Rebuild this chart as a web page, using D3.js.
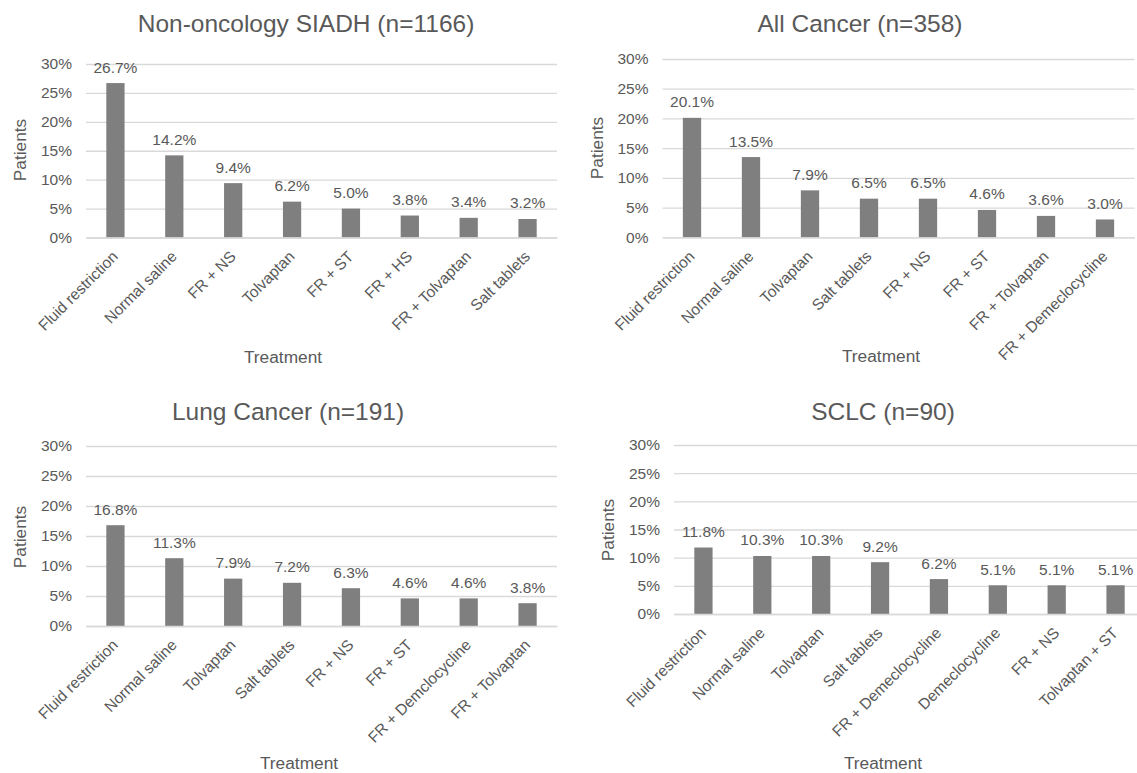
<!DOCTYPE html>
<html>
<head>
<meta charset="utf-8">
<script src="https://cdn.jsdelivr.net/npm/d3@7"></script>
<style>
  body { margin: 0; background: #fff; }
  svg { display: block; font-family: "Liberation Sans", Arial, sans-serif; }
</style>
</head>
<body>
<div id="chart-container"></div>
<script>
// values (percent of patients)
var yTicks = [0, 5, 10, 15, 20, 25, 30];

var nonOncTitle = "Non-oncology SIADH (n=1166)";
var nonOncCats = ["Fluid restriction", "Normal saline", "FR + NS", "Tolvaptan", "FR + ST", "FR + HS", "FR + Tolvaptan", "Salt tablets"];
var nonOncVals = [26.7, 14.2, 9.4, 6.2, 5.0, 3.8, 3.4, 3.2];

var allCancerTitle = "All Cancer (n=358)";
var allCancerCats = ["Fluid restriction", "Normal saline", "Tolvaptan", "Salt tablets", "FR + NS", "FR + ST", "FR + Tolvaptan", "FR + Demeclocycline"];
var allCancerVals = [20.1, 13.5, 7.9, 6.5, 6.5, 4.6, 3.6, 3.0];

var lungTitle = "Lung Cancer (n=191)";
var lungCats = ["Fluid restriction", "Normal saline", "Tolvaptan", "Salt tablets", "FR + NS", "FR + ST", "FR + Demclocycline", "FR + Tolvaptan"];
var lungVals = [16.8, 11.3, 7.9, 7.2, 6.3, 4.6, 4.6, 3.8];

var sclcTitle = "SCLC (n=90)";
var sclcCats = ["Fluid restriction", "Normal saline", "Tolvaptan", "Salt tablets", "FR + Demeclocycline", "Demeclocycline", "FR + NS", "Tolvaptan + ST"];
var sclcVals = [11.8, 10.3, 10.3, 9.2, 6.2, 5.1, 5.1, 5.1];

var textColor = "#595959";
var barColor = "#7f7f7f";
var gridColor = "#d9d9d9";

var svg = d3.select("#chart-container")
  .append("svg")
  .attr("width", 1137)
  .attr("height", 773);

function drawPanel(title, cats, vals, box) {
  var data = cats.map(function (c, i) { return {cat: c, val: vals[i]}; });

  var x = d3.scaleBand()
    .domain(cats)
    .range([box.left, box.right])
    .paddingInner(0.69)
    .paddingOuter(0.345);

  var y = d3.scaleLinear()
    .domain([0, 30])
    .range([box.bottom, box.top]);

  var g = svg.append("g");

  //gridlines + y tick labels
  var yAxis = d3.axisLeft(y)
    .tickValues(yTicks)
    .tickSize(-(box.right - box.left))
    .tickPadding(14)
    .tickFormat(function (d) { return d + "%"; });

  var ya = g.append("g")
    .attr("transform", "translate(" + box.left + ",0)")
    .call(yAxis);
  ya.select(".domain").remove();
  ya.selectAll("line").attr("stroke", gridColor).attr("stroke-width", 1.3);
  ya.selectAll("text")
    .attr("fill", textColor)
    .style("font-size", "15.5px")
    .style("font-family", "'Liberation Sans', Arial, sans-serif");

  //bars
  g.selectAll("rect.bar")
    .data(data)
    .enter().append("rect")
    .attr("class", "bar")
    .attr("x", function (d) { return x(d.cat); })
    .attr("width", x.bandwidth())
    .attr("y", function (d) { return y(d.val); })
    .attr("height", function (d) { return y(0) - y(d.val); })
    .attr("fill", barColor);

  //value labels
  g.selectAll("text.val")
    .data(data)
    .enter().append("text")
    .attr("class", "val")
    .attr("x", function (d) { return x(d.cat) + x.bandwidth() / 2; })
    .attr("y", function (d) { return y(d.val) - 10.5; })
    .attr("text-anchor", "middle")
    .attr("fill", textColor)
    .style("font-size", "15.5px")
    .text(function (d) { return d.val.toFixed(1) + "%"; });

  //x axis with rotated category labels
  var xAxis = d3.axisBottom(x).tickSize(0).tickPadding(0);
  var xa = g.append("g")
    .attr("transform", "translate(0," + box.bottom + ")")
    .call(xAxis);
  xa.select(".domain").attr("stroke", gridColor).attr("stroke-width", 1.3);
  xa.selectAll("text")
    .attr("fill", textColor)
    .attr("y", 0)
    .attr("dy", 0)
    .attr("text-anchor", "end")
    .attr("transform", "translate(3.5,20) rotate(-45)")
    .style("font-size", "15.5px")
    .style("font-family", "'Liberation Sans', Arial, sans-serif");

  //titles
  g.append("text")
    .attr("x", box.titleX)
    .attr("y", box.titleY)
    .attr("text-anchor", "middle")
    .attr("fill", textColor)
    .style("font-size", "24.5px")
    .text(title);

  g.append("text")
    .attr("transform", "translate(" + box.ylabX + "," + box.ylabY + ") rotate(-90)")
    .attr("dy", "0.35em")
    .attr("text-anchor", "middle")
    .attr("fill", textColor)
    .style("font-size", "17.3px")
    .text("Patients");

  g.append("text")
    .attr("x", box.xlabX)
    .attr("y", box.xlabY)
    .attr("text-anchor", "middle")
    .attr("fill", textColor)
    .style("font-size", "17.3px")
    .text("Treatment");
}

drawPanel(nonOncTitle, nonOncCats, nonOncVals,
  {left: 86, right: 557, top: 64, bottom: 237.5, titleX: 306, titleY: 32, ylabX: 20, ylabY: 150, xlabX: 283, xlabY: 363});
drawPanel(allCancerTitle, allCancerCats, allCancerVals,
  {left: 662.5, right: 1134.5, top: 59, bottom: 237.3, titleX: 860, titleY: 32, ylabX: 597, ylabY: 148, xlabX: 881, xlabY: 362});
drawPanel(lungTitle, lungCats, lungVals,
  {left: 86, right: 557, top: 446, bottom: 626, titleX: 288, titleY: 420, ylabX: 20, ylabY: 537, xlabX: 299, xlabY: 769});
drawPanel(sclcTitle, sclcCats, sclcVals,
  {left: 674, right: 1145, top: 445, bottom: 614, titleX: 883, titleY: 420, ylabX: 608, ylabY: 530, xlabX: 883, xlabY: 769});
</script>
</body>
</html>
